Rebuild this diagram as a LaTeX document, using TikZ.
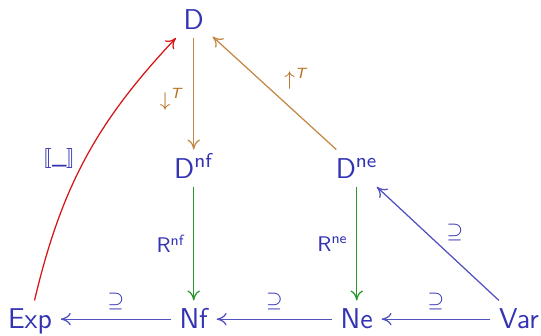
\documentclass[tikz,border=0pt]{standalone}
\usepackage{fontspec}
\usepackage{amsmath,amssymb}
\usepackage{stmaryrd}
\usetikzlibrary{arrows.meta}

\definecolor{structblue}{RGB}{51,51,179}
\definecolor{inclblue}{RGB}{80,80,190}
\definecolor{reflbrown}{RGB}{195,135,70}
\definecolor{labelbrown}{RGB}{185,110,30}
\definecolor{readgreen}{RGB}{40,150,40}
\definecolor{evalred}{RGB}{215,20,20}

\tikzset{
  obj/.style={font=\fontsize{11.5}{13}\selectfont\sffamily, text=structblue,
    text height=7.9pt, text depth=0pt, anchor=base},
  lbl/.style={font=\fontsize{8.5}{10}\selectfont\sffamily},
}

\begin{document}
\begin{tikzpicture}[every node/.style={inner sep=3.3pt}, >={To[length=4pt,width=5pt]}, line width=0.5pt]
  \useasboundingbox (-0.423,-0.085) rectangle (7.21,4.642);

  % Objects
  \node[obj] (exp) at (0,0) {Exp};
  \node[obj] (nf)  at (2.31,0) {Nf};
  \node[obj] (ne)  at (4.61,0) {Ne};
  \node[obj] (var) at (6.90,0) {Var};
  \node[obj] (dnf) at (2.31,2.13) {D$^{\text{nf}}$};
  \node[obj] (dne) at (4.61,2.13) {D$^{\text{ne}}$};
  \node[obj] (d)   at (2.31,4.23) {D};

  % Reflect / reify
  \draw[->, reflbrown] (d) -- node[lbl, left, text=labelbrown, pos=0.55, xshift=-1pt] {$\downarrow^{\textsf{\itshape T}}$} (dnf);
  \draw[->, reflbrown] (dne) -- node[lbl, above right, text=labelbrown, pos=0.45, xshift=-2pt] {$\uparrow^{\textsf{\itshape T}}$} (d);

  % Readback
  \draw[->, readgreen] (dnf) -- node[lbl, left, text=structblue] {R$^{\text{nf}}$} (nf);
  \draw[->, readgreen] (dne) -- node[lbl, left, text=structblue] {R$^{\text{ne}}$} (ne);

  % Evaluation
  \draw[->, evalred] (exp) to[bend left=15]
    node[lbl, left, text=structblue, pos=0.5, xshift=-0.5pt] {$\llbracket$\textunderscore$\rrbracket$} (d);

  % Inclusions
  \draw[->, inclblue] (nf) -- node[lbl, above, text=structblue] {$\supseteq$} (exp);
  \draw[->, inclblue] (ne) -- node[lbl, above, text=structblue] {$\supseteq$} (nf);
  \draw[->, inclblue] (var) -- node[lbl, above, text=structblue] {$\supseteq$} (ne);
  \draw[->, inclblue] (var) -- node[lbl, above right, text=structblue, yshift=-2.5pt] {$\supseteq$} (dne);
\end{tikzpicture}
\end{document}
